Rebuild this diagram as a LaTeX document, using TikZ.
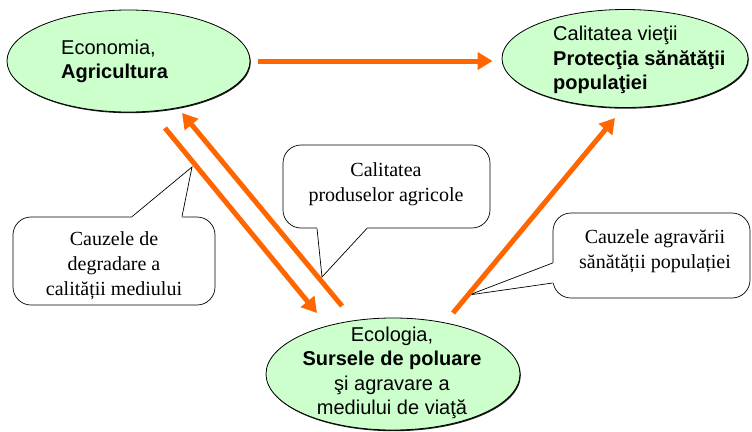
\documentclass[tikz,border=0pt]{standalone}
\usepackage{fontspec}
\setmainfont{Liberation Serif}
\newfontfamily\arialfont{Liberation Sans}
\usetikzlibrary{arrows.meta}
\usetikzlibrary{shapes.geometric}
\usetikzlibrary{shadows}
\definecolor{floworange}{HTML}{FF6600}
\definecolor{palegreen}{HTML}{CCFFCC}

\begin{document}
\begin{tikzpicture}[x=1pt,y=-1pt,
    bubble/.style={ellipse, draw, fill=palegreen, line width=0.8pt, inner sep=0pt,
      drop shadow={shadow xshift=0.8pt, shadow yshift=-1.2pt, fill=black, opacity=0.9}},
    sanstext/.style={inner sep=0pt, font=\arialfont\fontsize{20pt}{24.5pt}\selectfont},
    note/.style={rectangle, draw, fill=white, rounded corners=18pt, line width=0.7pt},
    notetext/.style={inner sep=0pt, align=center, font=\fontsize{20pt}{25pt}\selectfont},
    flow/.style={line width=5pt, draw=floworange, -{Triangle[length=15pt,width=17pt]}}]

      \useasboundingbox (0,0) rectangle (752,431);

      \node[bubble, minimum width=243pt, minimum height=102pt] (econ) at (128.5,61) {};
      \node[sanstext, align=left, anchor=west] (econtxt) at (61,61.5) {Economia,\\\textbf{Agricultura}};

      \node[bubble, minimum width=246pt, minimum height=98pt] (life) at (625,58.5) {};
      \node[sanstext, align=left, anchor=west] (lifetxt) at (553,60) {Calitatea vieţii\\\textbf{Protecţia sănătăţii}\\\textbf{populaţiei}};

      \node[bubble, minimum width=254pt, minimum height=112pt] (eco) at (393,374) {};
      \node[sanstext, align=center] (ecotxt) at (392,373) {Ecologia,\\\textbf{Sursele de poluare}\\şi agravare a\\mediului de viaţă};

      \node[note, minimum width=202pt, minimum height=88pt] (c1) at (114,261) {};
      \node[notetext] (c1txt) at (114,266) {Cauzele de\\degradare a\\calității mediului};
      \coordinate (t1) at (192,167);
      \fill[white] ([xshift=18pt,yshift=-2pt]c1.north) -- ([xshift=18pt]c1.north) -- (t1) -- ([xshift=68pt]c1.north) -- ([xshift=68pt,yshift=-2pt]c1.north) -- cycle;
      \draw[line width=0.7pt] ([xshift=18pt]c1.north) -- (t1) -- ([xshift=68pt]c1.north);

      \node[note, minimum width=207pt, minimum height=83pt] (c2) at (386.5,186.5) {};
      \node[notetext] (c2txt) at (386,184) {Calitatea\\produselor agricole};
      \coordinate (t2) at (322,277);
      \fill[white] ([xshift=-69.5pt,yshift=2pt]c2.south) -- ([xshift=-69.5pt]c2.south) -- (t2) -- ([xshift=-19.5pt]c2.south) -- ([xshift=-19.5pt,yshift=2pt]c2.south) -- cycle;
      \draw[line width=0.7pt] ([xshift=-69.5pt]c2.south) -- (t2) -- ([xshift=-19.5pt]c2.south);

      \node[note, minimum width=197pt, minimum height=85pt] (c3) at (651.5,255.5) {};
      \node[notetext] (c3txt) at (655,251) {Cauzele agravării\\sănătății populației};
      \coordinate (t3) at (469,295);
      \fill[white] ([xshift=2pt,yshift=-7.5pt]c3.west) -- ([yshift=-7.5pt]c3.west) -- (t3) -- ([yshift=-27.5pt]c3.west) -- ([xshift=2pt,yshift=-27.5pt]c3.west) -- cycle;
      \draw[line width=0.7pt] ([yshift=-7.5pt]c3.west) -- (t3) -- ([yshift=-27.5pt]c3.west);

      \draw[flow, shorten <=8pt, shorten >=9pt] (econ.east) -- (econ.east -| life.west);
      \draw[flow] ([shift={(36.5,67)}]econ.center) -- ([shift={(-76,-61)}]eco.center);
      \draw[flow] ([shift={(-51,-68)}]eco.center) -- ([shift={(53.5,52)}]econ.center);
      \draw[flow] ([shift={(60,-61)}]eco.center) -- ([shift={(-10,59.5)}]life.center);

    \end{tikzpicture}
\end{document}
